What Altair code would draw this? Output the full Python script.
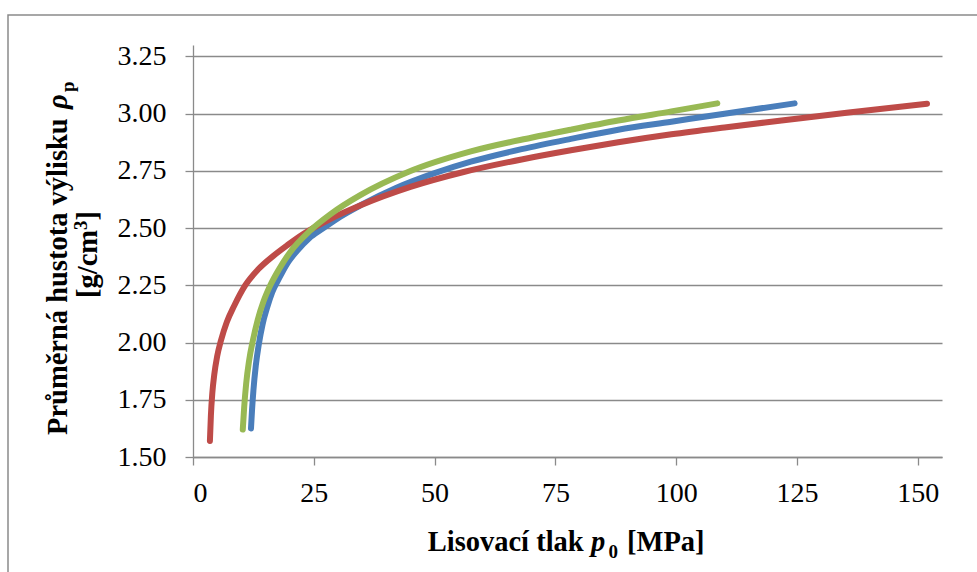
import altair as alt
import pandas as pd

# Lisovací tlak p0 [MPa] a průměrná hustota výlisku [g/cm3], tři série
blue_p = [12.0, 12.2, 12.5, 13.0, 13.6, 14.4, 15.3, 16.4, 17.8, 19.5, 21.5, 24.0,
          27.0, 30.5, 34.7, 42.0, 50.0, 57.5, 68.0, 78.2, 88.0, 99.0, 110.0, 124.5]
blue_rho = [1.625, 1.70, 1.79, 1.90, 1.99, 2.08, 2.15, 2.22, 2.28, 2.345, 2.40, 2.455,
            2.50, 2.55, 2.60, 2.675, 2.74, 2.79, 2.845, 2.89, 2.93, 2.965, 3.00, 3.045]

red_p = [3.5, 3.7, 4.0, 4.4, 5.0, 5.8, 7.0, 8.5, 10.8, 13.5, 16.7, 19.5, 22.9,
         28.4, 34.7, 45.0, 56.0, 68.0, 78.2, 88.0, 99.0, 110.0, 121.8, 135.7, 151.9]
red_rho = [1.57, 1.68, 1.78, 1.86, 1.94, 2.01, 2.09, 2.16, 2.25, 2.32, 2.38, 2.425, 2.475,
           2.54, 2.60, 2.68, 2.745, 2.80, 2.84, 2.875, 2.91, 2.94, 2.97, 3.005, 3.043]

green_p = [10.3, 10.6, 11.0, 11.6, 12.4, 13.4, 14.6, 16.0, 17.8, 20.1, 24.3, 28.4,
           34.7, 44.5, 57.5, 70.0, 78.2, 88.0, 99.0, 108.5]
green_rho = [1.62, 1.72, 1.82, 1.92, 2.01, 2.10, 2.18, 2.25, 2.32, 2.395, 2.49, 2.56,
             2.645, 2.745, 2.835, 2.895, 2.93, 2.97, 3.01, 3.045]

x_ticks = [0, 25, 50, 75, 100, 125, 150]
y_ticks = [1.50, 1.75, 2.00, 2.25, 2.50, 2.75, 3.00, 3.25]

FONT = "Liberation Serif"
GRAY = "#8a8a8a"
TITLE_SIZE = 28.5
SUB_SIZE = 19
LABEL_SIZE = 28

x_scale = alt.Scale(domain=[0, 155], nice=False, zero=False)
y_scale = alt.Scale(domain=[1.5, 3.3], nice=False, zero=False)

axis_style = dict(
    domainColor=GRAY, domainWidth=1.3,
    tickColor=GRAY, tickWidth=1.3, tickSize=8,
    labelFont=FONT, labelFontSize=LABEL_SIZE, labelColor="black",
    title=None,
)
x_axis = alt.Axis(values=x_ticks, grid=False, format="d", labelPadding=14, **axis_style)
y_axis = alt.Axis(values=y_ticks, grid=True, gridColor=GRAY, gridWidth=1.3,
                  format=".2f", labelPadding=19, **axis_style)


def curve(p, rho, color):
    frame = pd.DataFrame({"p": p, "rho": rho})
    return alt.Chart(frame).mark_line(
        color=color, strokeWidth=6, strokeCap="round", strokeJoin="round",
        interpolate="monotone",
    ).encode(
        x=alt.X("p:Q", scale=x_scale, axis=x_axis),
        y=alt.Y("rho:Q", scale=y_scale, axis=y_axis),
    )


def piece(text, x, y, size=TITLE_SIZE, style="normal", angle=0):
    # one fragment of a rich-text axis title (bold serif, optional italic / sub / sup)
    return alt.Chart(alt.Data(values=[{}])).mark_text(
        text=text, font=FONT, fontWeight="bold", fontStyle=style, fontSize=size,
        align="left", baseline="alphabetic", angle=angle, color="black",
    ).encode(x=alt.value(x), y=alt.value(y))


frame_box = alt.Chart(alt.Data(values=[{}])).mark_rect(
    fillOpacity=0, stroke=GRAY, strokeWidth=1.5,
).encode(
    x=alt.value(-185), x2=alt.value(800), y=alt.value(-30), y2=alt.value(560),
)

x_title = [
    piece("Lisovací tlak", 234.7, 505.7),
    piece("p", 398, 505.7, style="italic"),
    piece("0", 415.5, 513, size=SUB_SIZE),
    piece("[MPa]", 434, 505.7),
]

y_title = [
    piece("Průměrná hustota výlisku", -126, 390, angle=270),
    piece("ρ", -126, 64, style="italic", angle=270),
    piece("p", -119.5, 47, size=SUB_SIZE, angle=270),
    piece("[g/cm", -96, 253, angle=270),
    piece("3", -106, 185, size=SUB_SIZE, angle=270),
    piece("]", -96, 175.5, angle=270),
]

chart = alt.layer(
    frame_box,
    curve(blue_p, blue_rho, "#4A7EBB"),
    curve(red_p, red_rho, "#BE4B48"),
    curve(green_p, green_rho, "#98B954"),
    *x_title,
    *y_title,
).properties(
    width=749,
    height=412,
    autosize="none",
    padding={"left": 193, "top": 45, "right": 35, "bottom": 115},
    background="white",
).configure_view(
    stroke=None,
)

chart.save("out.html", embed_options={"renderer": "svg", "actions": False})
